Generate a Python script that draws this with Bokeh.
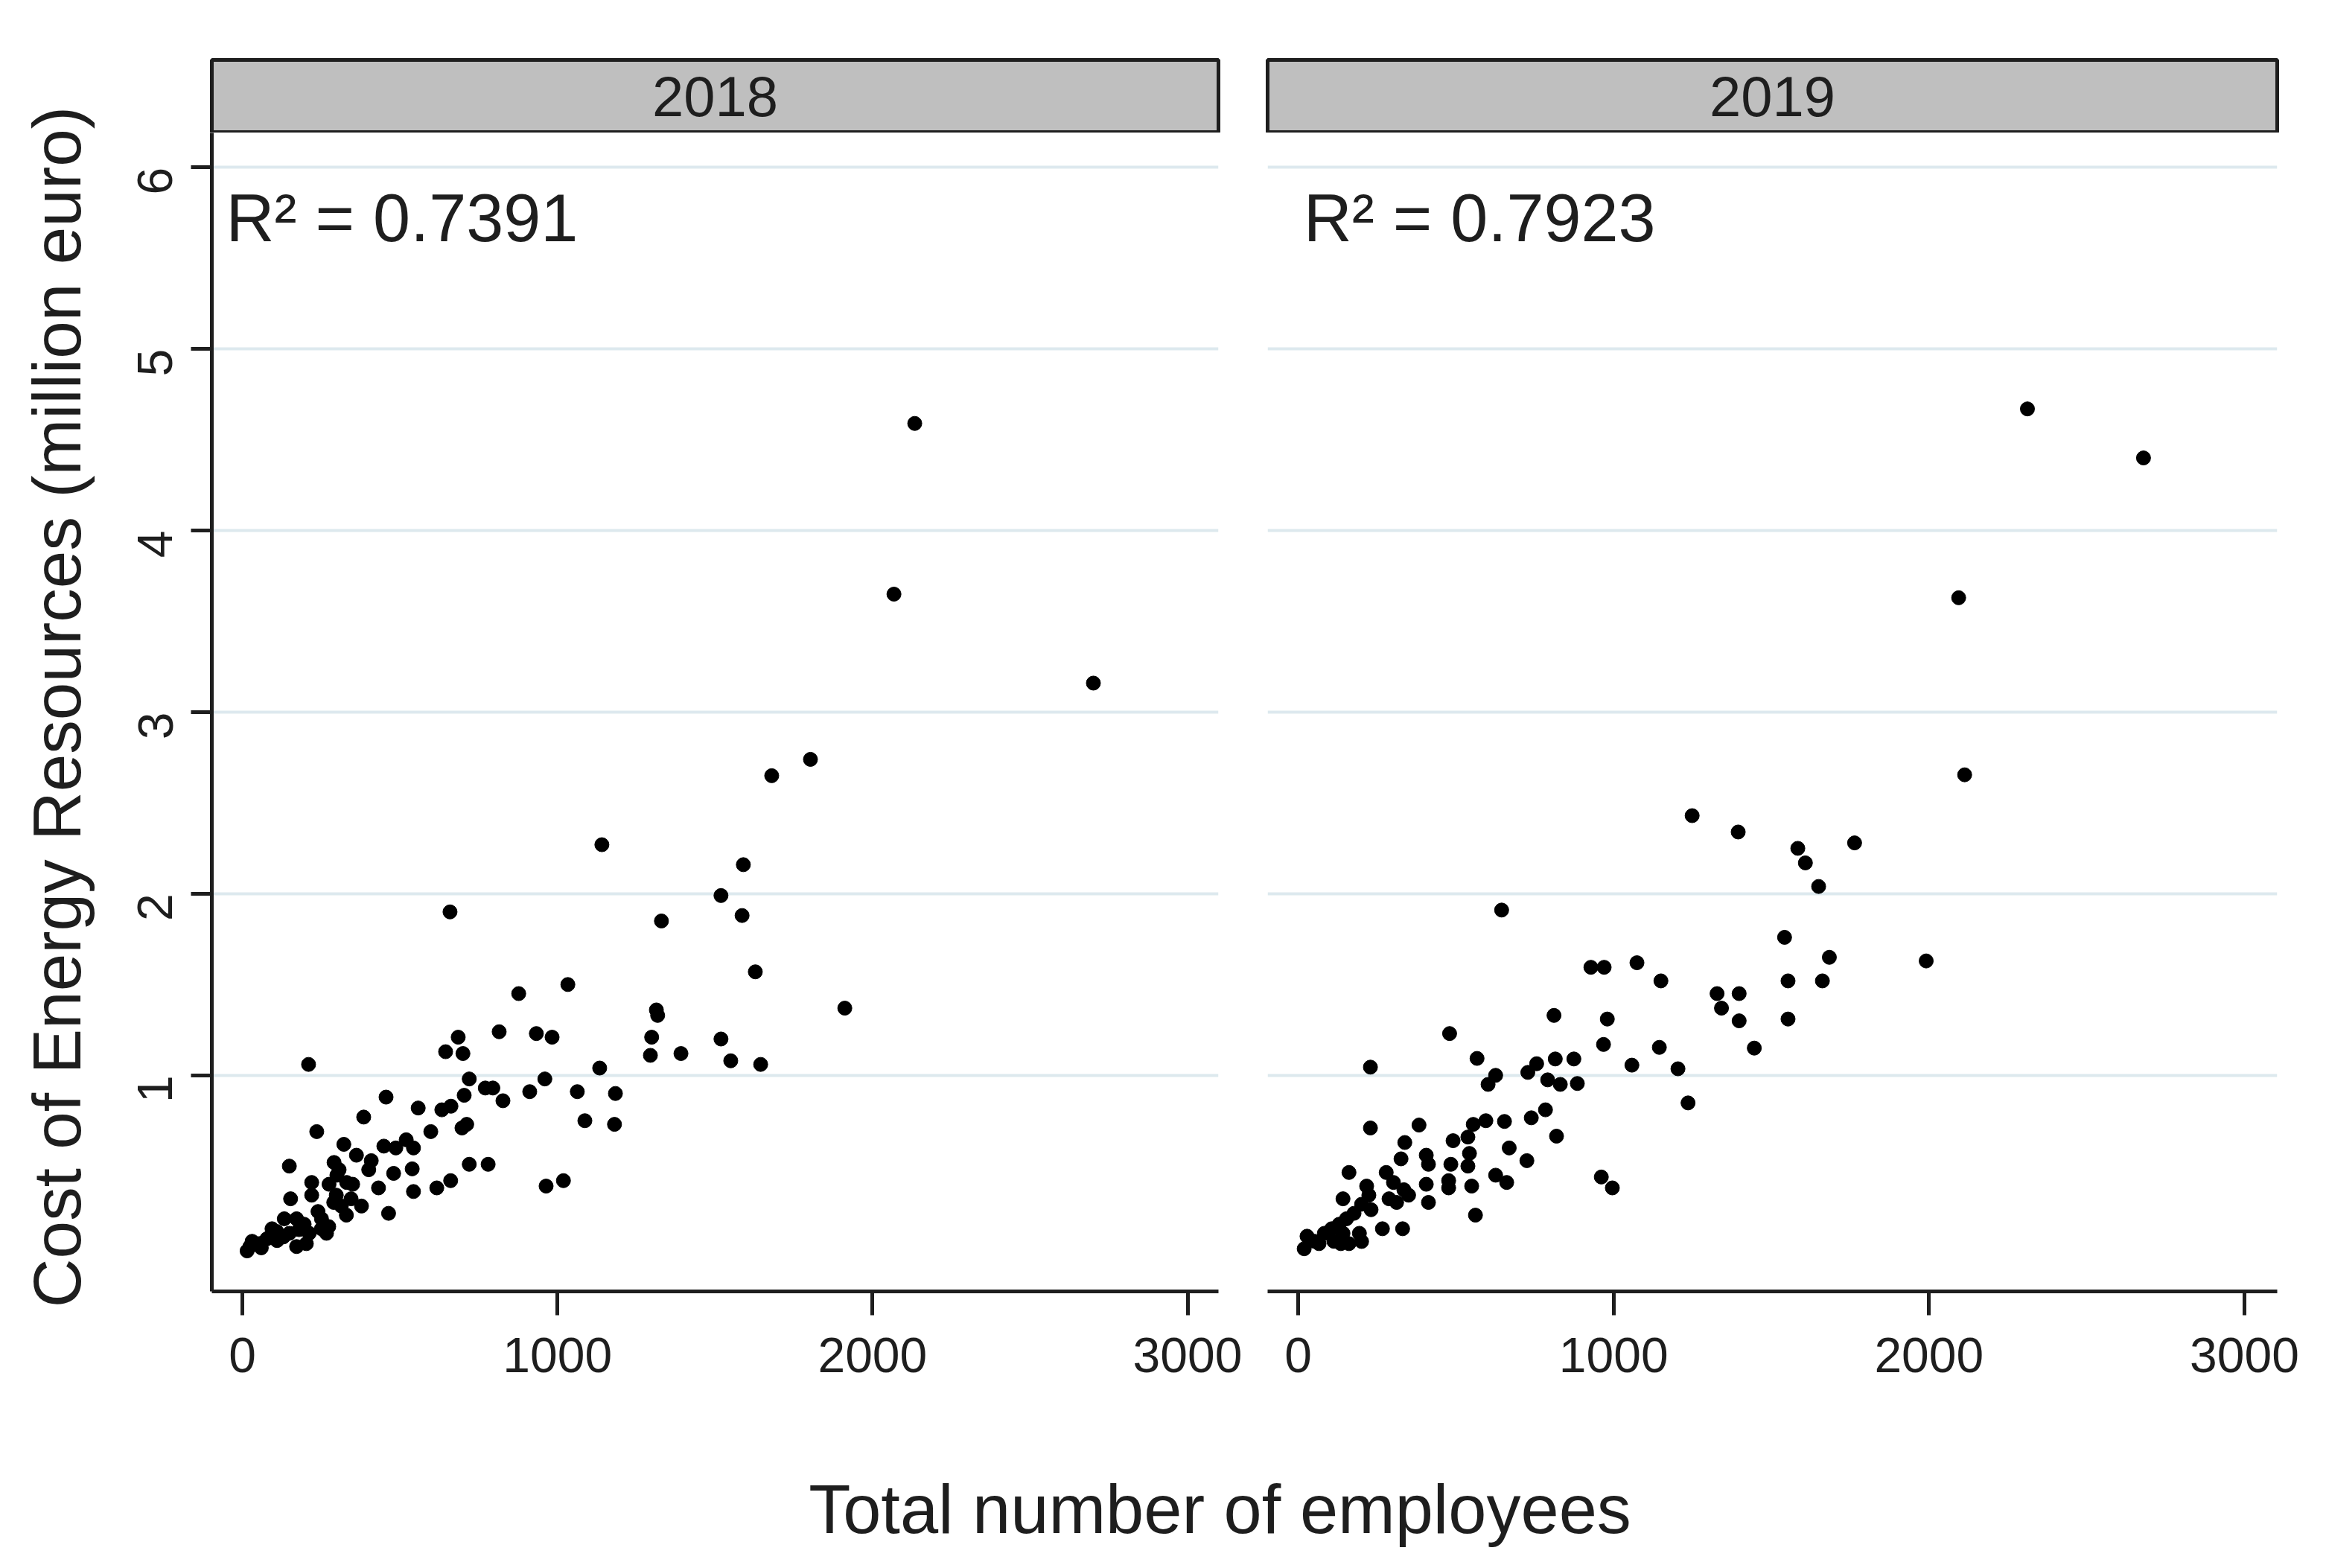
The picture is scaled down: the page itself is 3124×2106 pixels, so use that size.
import math
from bokeh.plotting import figure
from bokeh.models import Range1d, FixedTicker, Label, ColumnDataSource
from bokeh.layouts import column, row
from bokeh.embed import file_html
from bokeh.resources import INLINE

# ---------------- data ----------------
years = ["2018", "2019"]
r2_texts = ["R\u00b2 = 0.7391", "R\u00b2 = 0.7923"]
x_ticks = [0, 1000, 2000, 3000]
y_ticks = [1, 2, 3, 4, 5, 6]
x_title = "Total number of employees"
y_title = "Cost of Energy Resources (million euro)"

emp_2018 = [2134, 2068, 2701, 1803, 1680, 1141, 1590, 1519, 1586, 1330, 659, 1628, 1033, 877,
            1912, 1314, 1318, 1519, 1550, 1645, 1392, 1299, 1295, 1134, 815, 933, 983, 1184,
            1087, 1181, 964, 1019, 1063, 960, 912,
            210, 645, 685, 700, 720, 771, 795, 827, 704, 662, 712, 697, 720, 780, 661, 456,
            558, 633,
            236, 322, 385, 149, 362, 409, 291, 307, 401, 449, 487, 520, 543, 480, 539, 598,
            543, 617, 432, 220, 220, 153, 275, 331, 298, 345, 314, 378, 330, 464, 251, 251,
            196, 212, 133, 172, 109, 149, 78, 94, 54, 31, 15, 24, 203, 172, 267, 274, 60, 110,
            130, 180, 240, 290, 350, 300]
cost_2018 = [4.59, 3.65, 3.16, 2.74, 2.65, 2.27, 2.16, 1.99, 1.88, 1.85, 1.90, 1.57, 1.50, 1.45,
             1.37, 1.36, 1.33, 1.20, 1.08, 1.06, 1.12, 1.21, 1.11, 1.04, 1.24, 1.23, 1.21, 0.90,
             0.75, 0.73, 0.39, 0.42, 0.91, 0.98, 0.91,
             1.06, 1.13, 1.21, 1.12, 0.98, 0.93, 0.93, 0.86, 0.89, 0.83, 0.73, 0.71, 0.51, 0.51,
             0.42, 0.88, 0.82, 0.81,
             0.69, 0.62, 0.77, 0.50, 0.56, 0.53, 0.52, 0.48, 0.48, 0.61, 0.60, 0.645, 0.60, 0.46,
             0.485, 0.69, 0.36, 0.38, 0.38, 0.41, 0.34, 0.32, 0.40, 0.41, 0.34, 0.32, 0.28, 0.28,
             0.23, 0.24, 0.21, 0.155, 0.18, 0.13, 0.21, 0.21, 0.14, 0.13, 0.10, 0.155, 0.073,
             0.086, 0.033, 0.057, 0.073, 0.057, 0.13, 0.167, 0.05, 0.09, 0.11, 0.15, 0.25, 0.30,
             0.40, 0.45]

emp_2019 = [2312, 2680, 2094, 2113, 1249, 1395, 1584, 1608, 1764, 1650, 645, 1542, 1684, 1991,
            1553, 1662, 928, 970, 1074, 1150, 1328, 1398, 1342, 1398, 1553, 1446, 1236, 1204,
            1145, 1058, 968, 980, 811,
            815, 874, 728, 756, 791, 831, 885, 784, 739, 819, 654, 669, 725, 661, 961, 996, 480,
            229, 567, 626, 602,
            229, 383, 338, 326, 406, 413, 491, 555, 595, 538, 543, 538, 484, 477, 477, 550, 626,
            406, 413, 562, 279, 302, 335, 350, 288, 312, 217, 224, 161, 142, 201, 231, 177, 153,
            267, 331, 130, 106, 83, 194, 201, 161, 28, 19, 52, 66, 113, 135, 142]
cost_2019 = [4.67, 4.40, 3.63, 2.655, 2.43, 2.34, 2.25, 2.17, 2.28, 2.04, 1.91, 1.76, 1.65, 1.63,
             1.52, 1.52, 1.595, 1.595, 1.62, 1.52, 1.45, 1.45, 1.37, 1.30, 1.31, 1.15, 0.848,
             1.036, 1.154, 1.056, 1.17, 1.31, 1.33,
             1.09, 1.09, 1.016, 1.064, 0.975, 0.95, 0.955, 0.81, 0.766, 0.665, 0.746, 0.60, 0.53,
             0.41, 0.44, 0.38, 1.23, 1.045, 1.093, 1.00, 0.95,
             0.71, 0.726, 0.63, 0.54, 0.56, 0.51, 0.64, 0.73, 0.75, 0.66, 0.57, 0.50, 0.51, 0.42,
             0.38, 0.39, 0.45, 0.40, 0.30, 0.23, 0.465, 0.41, 0.37, 0.34, 0.32, 0.30, 0.39, 0.34,
             0.465, 0.32, 0.29, 0.26, 0.24, 0.21, 0.155, 0.155, 0.18, 0.155, 0.13, 0.13, 0.085,
             0.073, 0.114, 0.045, 0.086, 0.073, 0.086, 0.073, 0.13]

# ---------------- style ----------------
FONT = "Liberation Sans, Arial, sans-serif"
INK = "#1e1e1e"
GRID = "#dde9ee"
STRIP = "#bfbfbf"

Y_RANGE = (-0.19, 6.19)
STRIP_H = 178
PANEL_H = 1756
YLAB_W = 156


def make_strip(text, width, left, right):
    s = figure(width=width, height=STRIP_H, x_range=Range1d(0, 1), y_range=Range1d(0, 1),
               output_backend="svg", toolbar_location=None,
               x_axis_location=None, y_axis_location=None,
               min_border_left=left, min_border_right=right,
               min_border_top=STRIP_H - 98, min_border_bottom=0)
    s.grid.visible = False
    s.background_fill_color = STRIP
    s.outline_line_color = INK
    s.outline_line_width = 5
    s.add_layout(Label(x=0.5, y=0.5, text=text, text_align="center", text_baseline="middle",
                       text_font=FONT, text_font_size="76px", text_color=INK))
    return s


def make_panel(emp, cost, r2, r2_x, width, xmax, left, right, show_y):
    p = figure(width=width, height=PANEL_H, x_range=Range1d(-97, xmax),
               y_range=Range1d(*Y_RANGE), output_backend="svg", toolbar_location=None,
               min_border_left=left, min_border_right=right,
               min_border_top=0, min_border_bottom=200)
    p.outline_line_color = None
    p.xgrid.visible = False
    p.ygrid.ticker = FixedTicker(ticks=y_ticks)
    p.ygrid.grid_line_color = GRID
    p.ygrid.grid_line_width = 4

    xa = p.xaxis[0]
    xa.ticker = FixedTicker(ticks=x_ticks)
    xa.axis_line_color = INK
    xa.axis_line_width = 5
    xa.major_tick_line_color = INK
    xa.major_tick_line_width = 5
    xa.major_tick_out = 32
    xa.major_tick_in = 0
    xa.minor_tick_line_color = None
    xa.major_label_standoff = 30
    xa.major_label_text_font = FONT
    xa.major_label_text_font_size = "66px"
    xa.major_label_text_color = INK

    ya = p.yaxis[0]
    if show_y:
        ya.ticker = FixedTicker(ticks=y_ticks)
        ya.axis_line_color = INK
        ya.axis_line_width = 5
        ya.major_tick_line_color = INK
        ya.major_tick_line_width = 5
        ya.major_tick_out = 28
        ya.major_tick_in = 0
        ya.minor_tick_line_color = None
        ya.major_label_orientation = math.pi / 2
        ya.major_label_standoff = 48
        ya.major_label_text_font = FONT
        ya.major_label_text_font_size = "66px"
        ya.major_label_text_color = INK
    else:
        ya.visible = False

    src = ColumnDataSource(data=dict(emp=emp, cost=cost))
    p.scatter(x="emp", y="cost", source=src, size=19, color="black", line_color="black")

    p.add_layout(Label(x=r2_x, y=5.72, text=r2, text_baseline="alphabetic",
                       text_font=FONT, text_font_size="90px", text_color=INK))
    return p


# y-axis title lives in its own narrow strip so that it can span strip + panel height
ylab_h = STRIP_H + PANEL_H
ylab = figure(width=YLAB_W, height=ylab_h, x_range=Range1d(0, YLAB_W), y_range=Range1d(0, ylab_h),
              output_backend="svg", toolbar_location=None,
              x_axis_location=None, y_axis_location=None, min_border=0)
ylab.grid.visible = False
ylab.outline_line_color = None
ylab.add_layout(Label(x=76, y=ylab_h - 949, text=y_title, angle=math.pi / 2,
                      text_align="center", text_baseline="middle",
                      text_font=FONT, text_font_size="91px", text_color=INK))

s1 = make_strip(years[0], 1516, 128, 36)
s2 = make_strip(years[1], 1436, 30, 50)
p1 = make_panel(emp_2018, cost_2018, r2_texts[0], -52, 1516, 3098, 128, 36, True)
p2 = make_panel(emp_2019, cost_2019, r2_texts[1], 17, 1436, 3104, 30, 50, False)

total_w = YLAB_W + 1516 + 1436
xl = figure(width=total_w, height=150, x_range=Range1d(0, total_w), y_range=Range1d(0, 150),
            output_backend="svg", toolbar_location=None,
            x_axis_location=None, y_axis_location=None, min_border=0)
xl.grid.visible = False
xl.outline_line_color = None
xl.add_layout(Label(x=1638, y=58, text=x_title, text_align="center", text_baseline="middle",
                    text_font=FONT, text_font_size="92px", text_color=INK))

layout = column(row(ylab, column(row(s1, s2), row(p1, p2))), xl)

open("out.html", "w").write(file_html(layout, INLINE))
